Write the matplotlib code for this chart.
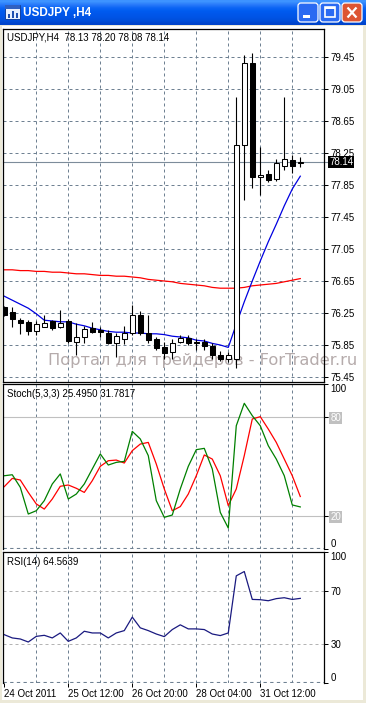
import matplotlib
matplotlib.use('Agg')
import numpy as np
import matplotlib.pyplot as plt
import matplotlib.transforms as mtransforms
from matplotlib.patches import Rectangle, FancyBboxPatch

plt.rcParams['font.family'] = ['Liberation Sans', 'DejaVu Sans']

# USDJPY H4 bars (24 Oct 2011 04:00 ...)
opens = [76.33, 76.26, 76.16, 76.14, 76.02, 76.08, 76.15, 76.07, 76.15, 75.89,
         75.95, 76.06, 76.04, 76.00, 75.88, 75.93, 76.00, 76.23, 76.00, 75.93,
         75.83, 75.76, 75.89, 75.94, 75.89, 75.89, 75.84, 75.73, 75.67, 75.68,
         78.35, 79.37, 77.95, 77.99, 77.93, 78.09, 78.16, 78.13]
highs = [76.34, 76.32, 76.19, 76.16, 76.15, 76.23, 76.16, 76.29, 76.18, 76.12,
         76.09, 76.14, 76.08, 76.04, 76.00, 76.09, 76.35, 76.27, 76.23, 75.95,
         75.89, 75.93, 75.98, 75.98, 75.92, 75.92, 75.87, 75.77, 75.76, 78.95,
         79.47, 79.50, 78.33, 78.04, 78.17, 78.95, 78.23, 78.20]
lows = [76.21, 76.08, 75.99, 75.98, 75.98, 76.07, 76.04, 76.06, 75.87, 75.73,
        75.87, 76.00, 75.95, 75.86, 75.70, 75.86, 75.98, 75.98, 75.87, 75.79,
        75.67, 75.68, 75.87, 75.85, 75.79, 75.79, 75.68, 75.65, 75.64, 75.56,
        77.66, 77.81, 77.72, 77.89, 77.90, 78.04, 78.00, 78.08]
closes = [76.23, 76.18, 76.12, 76.02, 76.11, 76.13, 76.06, 76.13, 75.90, 75.95,
          76.05, 76.01, 76.01, 75.88, 75.96, 76.00, 76.23, 76.00, 75.91, 75.81,
          75.75, 75.88, 75.94, 75.87, 75.87, 75.84, 75.73, 75.68, 75.72, 78.35,
          79.38, 77.95, 77.98, 77.91, 78.12, 78.17, 78.09, 78.14]

ma_fast = [76.46, 76.41, 76.36, 76.31, 76.24, 76.16, 76.15, 76.14, 76.14, 76.11,
           76.09, 76.06, 76.04, 76.02, 76.01, 76.01, 76.00, 76.00, 75.99, 75.99,
           75.98, 75.96, 75.95, 75.94, 75.91, 75.90, 75.87, 75.85, 75.82, 76.11,
           76.39, 76.65, 76.90, 77.14, 77.36, 77.59, 77.80, 77.96]
ma_slow = [76.79, 76.79, 76.78, 76.78, 76.77, 76.77, 76.76, 76.76, 76.75, 76.74,
           76.74, 76.73, 76.72, 76.72, 76.71, 76.71, 76.70, 76.69, 76.67, 76.66,
           76.65, 76.64, 76.62, 76.61, 76.60, 76.59, 76.57, 76.56, 76.56, 76.56,
           76.57, 76.59, 76.60, 76.61, 76.62, 76.64, 76.66, 76.68]

stoch_main = [44.4, 45.0, 37.4, 21.2, 23.2, 29.3, 39.4, 45.5, 30.3, 33.3,
              39.4, 48.5, 57.6, 50.9, 52.5, 53.1, 71.3, 66.7, 56.6, 29.3,
              19.2, 20.6, 36.4, 50.1, 60.2, 61.0, 48.5, 22.2, 12.7, 74.7,
              88.3, 80.8, 74.7, 62.6, 54.5, 44.4, 26.7, 25.5]
stoch_signal = [37.8, 42.8, 41.8, 34.3, 27.3, 24.2, 30.3, 38.0, 38.8, 36.8,
                34.3, 41.4, 50.1, 53.5, 53.9, 52.1, 59.6, 63.6, 64.6, 51.5,
                36.4, 23.2, 25.7, 33.3, 44.4, 57.0, 54.5, 44.4, 26.3, 36.4,
                56.6, 78.8, 80.2, 72.7, 64.6, 54.5, 44.4, 31.8]
rsi = [36.9, 34.4, 33.6, 31.3, 35.6, 36.4, 34.4, 38.2, 31.8, 34.4,
       39.5, 38.2, 38.2, 34.4, 38.2, 40.0, 50.3, 42.1, 40.0, 37.4,
       35.4, 40.8, 44.4, 41.3, 41.3, 40.8, 37.4, 36.2, 38.2, 81.8,
       85.1, 63.8, 63.6, 62.8, 64.4, 65.1, 63.8, 64.6]

price_levels = [75.45, 75.85, 76.25, 76.65, 77.05, 77.45, 77.85, 78.25, 78.65, 79.05, 79.45]
price_labels = ['75.45', '75.85', '76.25', '76.65', '77.05', '77.45', '77.85', '78.25', '78.65', '79.05', '79.45']
last_price = 78.14
date_bars = [0, 8, 16, 24, 32]
date_labels = ['24 Oct 2011', '25 Oct 12:00', '26 Oct 20:00', '28 Oct 04:00', '31 Oct 12:00']
grid_bars = [4, 8, 12, 16, 20, 24, 28, 32, 36]

W, H = 366, 703
fig = plt.figure(figsize=(W / 100, H / 100), dpi=100, facecolor='#ECE9D8')
pix = mtransforms.Affine2D().scale(1 / W, -1 / H).translate(0, 1) + fig.transFigure

def rect(x0, y0, x1, y1):
    return [x0 / W, 1 - y1 / H, (x1 - x0) / W, (y1 - y0) / H]

# window chrome
bg = fig.add_axes([0, 0, 1, 1], zorder=-10)
bg.set_xlim(0, W)
bg.set_ylim(H, 0)
bg.axis('off')
bg.add_patch(Rectangle((2, 26), 361, 674, fc='white', ec='none'))
grad = np.array([[0.24, 0.58, 1.0], [0.16, 0.48, 0.98], [0.05, 0.40, 0.96], [0.0, 0.36, 0.94],
                 [0.0, 0.34, 0.92], [0.0, 0.33, 0.90], [0.0, 0.31, 0.86], [0.0, 0.27, 0.80]])
bg.imshow(grad[:, None, :], extent=(0, W, 25, 0), aspect='auto', interpolation='bilinear')
bg.add_patch(Rectangle((5, 5), 15, 14, fc='#E8F0FF', ec='#1040A0', lw=0.7))
bg.add_patch(Rectangle((5, 5), 15, 4, fc='#3060C0', ec='none'))
for i, h in enumerate([4, 7, 5]):
    bg.add_patch(Rectangle((8 + i * 4, 18 - h), 2, h, fc='#2050B0', ec='none'))
bg.text(23, 13, 'USDJPY ,H4', color='white', fontsize=8.5, fontweight='bold', va='center', ha='left')
for bx, col in [(298, '#2A6AF2'), (320, '#2A6AF2'), (342, '#DD5533')]:
    bg.add_patch(FancyBboxPatch((bx, 3), 20, 19, boxstyle='round,pad=0,rounding_size=3',
                                fc=col, ec='white', lw=0.9))
bg.add_patch(Rectangle((303, 15), 7, 3, fc='white', ec='none'))
bg.add_patch(Rectangle((325, 7), 10, 10, fc='none', ec='white', lw=1.2))
bg.add_patch(Rectangle((325, 7), 10, 2, fc='white', ec='none'))
bg.plot([347.5, 356.5], [7.5, 17.5], color='white', lw=1.6, solid_capstyle='butt')
bg.plot([347.5, 356.5], [17.5, 7.5], color='white', lw=1.6, solid_capstyle='butt')

ax = fig.add_axes(rect(3, 29, 324, 382))
ax_st = fig.add_axes(rect(3, 384, 324, 549))
ax_rsi = fig.add_axes(rect(3, 552, 324, 683))

x = np.arange(len(opens))
xmin = -0.16
xmax = xmin + 321 / 8
grid_col = '#6F8192'
dash = (0, (3, 3))
fs = 7

for a in (ax, ax_st, ax_rsi):
    a.set_xlim(xmin, xmax)
    a.set_facecolor('white')
    for s in a.spines.values():
        s.set_linewidth(0.9)
        s.set_color('black')
    a.yaxis.tick_right()
    a.tick_params(axis='y', direction='out', length=3, width=0.72, pad=1.5, labelsize=fs)
    a.tick_params(axis='x', bottom=False, labelbottom=False)
    for g in grid_bars:
        a.axvline(g, color=grid_col, lw=0.72, ls=dash, zorder=0.5)

# main chart
ax.set_ylim(75.3875, 79.80)
ax.set_yticks(price_levels)
ax.set_yticklabels(price_labels)
for lv in price_levels:
    ax.axhline(lv, color=grid_col, lw=0.72, ls=dash, zorder=0.5)
ax.text(48, 361, 'Портал для трейдеров - ForTrader.ru', transform=pix, color='#B5ABAB',
        fontsize=11.7, family='DejaVu Sans', va='center', ha='left', clip_on=False, zorder=1)
ax.plot(x, ma_slow, color='red', lw=0.9, zorder=1.5)
ax.plot(x, ma_fast, color='#0000E0', lw=0.9, zorder=1.5)
o = np.array(opens)
c = np.array(closes)
up = c >= o
ax.vlines(x, lows, highs, color='black', lw=0.8, zorder=2)
ax.bar(x, np.maximum(np.abs(c - o), 0.01), bottom=np.minimum(o, c), width=0.6,
       color=np.where(up, 'white', 'black'), edgecolor='black', linewidth=0.75, zorder=3)
ax.plot([0, 1 + 4 / 321], [last_price, last_price], transform=ax.get_yaxis_transform(),
        color='#7D8C9A', lw=0.8, clip_on=False, zorder=1.8)
ax.text(1 + 5 / 321, last_price, '78.14', transform=ax.get_yaxis_transform(), color='white',
        fontsize=fs, va='center', ha='left', clip_on=False, zorder=5,
        bbox=dict(boxstyle='square,pad=0.12', fc='black', ec='none'))
ax.text(7, 38, 'USDJPY,H4  78.13 78.20 78.08 78.14', transform=pix, fontsize=fs,
        va='center', ha='left')

# stochastic
ax_st.set_ylim(0, 100)
ax_st.set_yticks([0, 20, 80, 100])
ax_st.set_yticklabels(['0', '20', '80', '100'])
for lv in (20, 80):
    ax_st.plot([0, 1 + 4 / 321], [lv, lv], transform=ax_st.get_yaxis_transform(),
               color='#C0C0C0', lw=0.8, clip_on=False, zorder=0.6)
tl = ax_st.get_yticklabels()
tl[0].set_va('bottom')
tl[3].set_va('top')
for t in tl[1:3]:
    t.set_color('white')
    t.set_bbox(dict(boxstyle='square,pad=0.1', fc='#C0C0C0', ec='none'))
ax_st.plot(x, stoch_signal, color='red', lw=0.9, zorder=2)
ax_st.plot(x, stoch_main, color='#008000', lw=0.9, zorder=2)
ax_st.spines['bottom'].set_visible(False)
ax_st.axhline(0.4, color=grid_col, lw=0.8, ls=dash, zorder=0.5)
ax_st.text(7, 394, 'Stoch(5,3,3) 25.4950 31.7817', transform=pix, fontsize=fs,
           va='center', ha='left')

# rsi
ax_rsi.set_ylim(0, 100)
ax_rsi.set_yticks([0, 30, 70, 100])
ax_rsi.set_yticklabels(['0', '30', '70', '100'])
tl = ax_rsi.get_yticklabels()
tl[0].set_va('bottom')
tl[3].set_va('top')
for lv in (30, 70):
    ax_rsi.axhline(lv, color='#B4B4B4', lw=0.72, ls=dash, zorder=0.5)
ax_rsi.plot(x, rsi, color='#1A1A80', lw=0.9, zorder=2)
ax_rsi.spines['bottom'].set_visible(False)
ax_rsi.axhline(0.4, color=grid_col, lw=0.8, ls=dash, zorder=0.5)
ax_rsi.set_xticks(date_bars)
ax_rsi.set_xticklabels(date_labels)
ax_rsi.tick_params(axis='x', bottom=True, labelbottom=True, direction='out', length=3,
                   width=0.72, pad=1.5, labelsize=fs)
for t in ax_rsi.get_xticklabels():
    t.set_ha('left')
ax_rsi.text(7, 562, 'RSI(14) 64.5639', transform=pix, fontsize=fs, va='center', ha='left')

fig.savefig('out.png', dpi=100, facecolor=fig.get_facecolor())
